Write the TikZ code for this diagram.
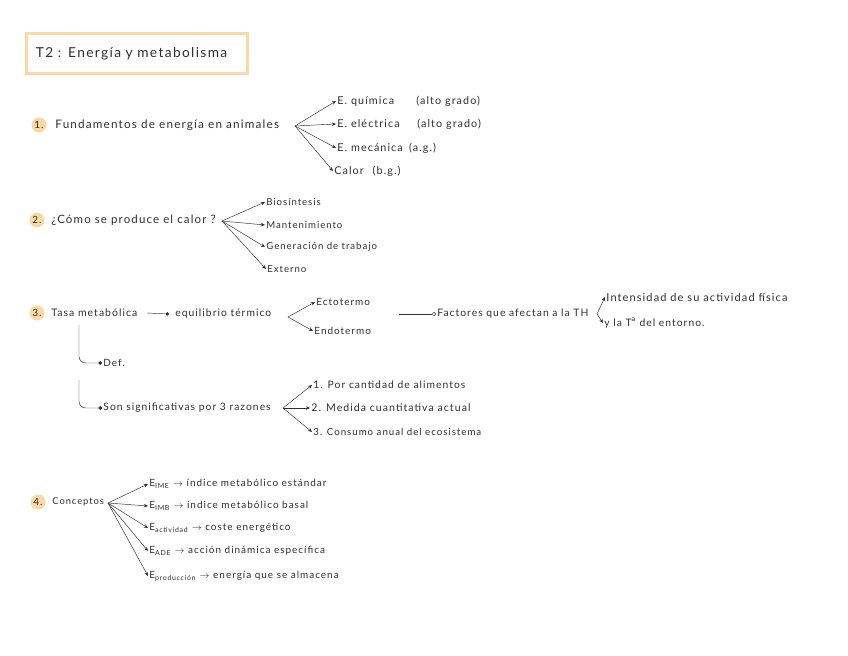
\documentclass[tikz,border=0pt]{standalone}
\usepackage{fontspec}
\setmainfont{Lato}[LetterSpace=10]
\usetikzlibrary{positioning, arrows.meta}
\definecolor{peach}{HTML}{FBD9A6}
\definecolor{ink}{HTML}{2E2E2E}
\newcommand{\fsz}[1]{\fontsize{#1}{#1}\selectfont}

\begin{document}
\begin{tikzpicture}[
    x=0.03cm, y=-0.03cm,
    ->, >={Stealth[length=3.5pt, width=3pt]}, draw=ink, thin,
    every node/.style={text=ink, inner sep=1pt},
    topic/.style={anchor=west, font=\fsz{10}},
    leaf/.style={anchor=west, font=\fsz{8.5}},
    num/.style={circle, fill=peach, minimum size=0.45cm, inner sep=0pt,
        font=\fsz{8.5}},
    titlebox/.style={draw=peach, line width=2.5pt, anchor=north west,
        minimum width=6.62cm, minimum height=1.2cm, inner xsep=0.28cm,
        text width=6.05cm, align=left, font=\fsz{11.7}},
    dot/.style={-{Circle[length=3pt]}},
    odot/.style={-{Circle[open, length=3.5pt]}},
    every edge/.style={draw, thin}
]
    \useasboundingbox (0,0) rectangle (848,656);

    % title
    \node[titlebox] (title) at (25,32) {T2 : Energía y metabolisma};

    % 1. fundamentos
    \node[num]   (n1)   at (39,125) {1.};
    \node[topic] (fund) at (54,125) {Fundamentos de energía en animales};
    \coordinate  (f1)   at (295,126);
    \node[leaf, font=\fsz{9.2}] (quim) at (336,101) {\makebox[2.37cm][l]{E. química}(alto grado)};
    \node[leaf, font=\fsz{9.2}] (elec) at (336,124) {\makebox[2.4cm][l]{E. eléctrica}(alto grado)};
    \node[leaf, font=\fsz{9.2}] (meca) at (336,148) {\makebox[2.15cm][l]{E. mecánica}(a.g.)};
    \node[leaf, font=\fsz{9.2}] (calo) at (333,171) {\makebox[1.15cm][l]{Calor}(b.g.)};
    \path
        (f1) edge (quim.west)
        (f1) edge (elec.west)
        (f1) edge (meca.west)
        (f1) edge (calo.west);

    % 2. calor
    \node[num]   (n2)    at (37,220) {2.};
    \node[topic, font=\fsz{9.8}] (calor) at (50,220) {¿Cómo se produce el calor ?};
    \coordinate  (f2)    at (222,221);
    \node[leaf, font=\fsz{8.2}] (bios) at (265,202) {Biosíntesis};
    \node[leaf, font=\fsz{8.2}] (mant) at (265,225) {Mantenimiento};
    \node[leaf, font=\fsz{8.2}] (gene) at (265,247) {Generación de trabajo};
    \node[leaf, font=\fsz{8.2}] (exte) at (266,269) {Externo};
    \path
        (f2) edge (bios.west)
        (f2) edge (mant.west)
        (f2) edge (gene.west)
        (f2) edge (exte.west);

    % 3. tasa metabolica
    \node[num]   (n3)    at (37,313) {3.};
    \node[topic, font=\fsz{8.9}] (tasa)  at (50,313) {Tasa metabólica};
    \node[leaf, font=\fsz{8.8}]  (equil) at (174,314) {equilibrio térmico};
    \draw[dot] ([xshift=0.25cm]tasa.east) -- ([xshift=-0.15cm]equil.west);
    \coordinate  (f3)   at (288,317);
    \node[leaf] (ecto) at (315,302) {Ectotermo};
    \node[leaf] (endo) at (313,331) {Endotermo};
    \path
        (f3) edge (ecto.west)
        (f3) edge (endo.west);
    \node[leaf, font=\fsz{8.8}] (fact) at (436,314) {Factores que afectan a la TH};
    \draw[odot] ([xshift=-1.1cm]fact.west) -- (fact.west);
    \coordinate (f4)   at (597,314);
    \node[leaf, font=\fsz{9.4}] (inte) at (605,297) {Intensidad de su actividad física};
    \node[leaf, font=\fsz{8.8}] (ento) at (603,323) {y la T\textsuperscript{a} del entorno.};
    \path
        (f4) edge (inte.west)
        (f4) edge (ento.west);

    \coordinate (deftop) at (79,325);
    \node[leaf] (def) at (102,363) {Def.};
    \draw[dot, rounded corners=0.2cm] (deftop) |- (def.west);

    \coordinate (sontop) at (79,380);
    \node[leaf, font=\fsz{8.8}] (son) at (102,408) {Son significativas por 3 razones};
    \draw[dot, rounded corners=0.2cm] (sontop) |- (son.west);
    \coordinate (f5)   at (283,408);
    \node[leaf, font=\fsz{8.8}] (raz1) at (312,385) {1. Por cantidad de alimentos};
    \node[leaf, font=\fsz{9}]   (raz2) at (310,408) {2. Medida cuantitativa actual};
    \node[leaf, font=\fsz{8.3}] (raz3) at (312,432) {3. Consumo anual del ecosistema};
    \path
        (f5) edge (raz1.west)
        (f5) edge (raz2.west)
        (f5) edge (raz3.west);

    % 4. conceptos
    \node[num]   (n4)   at (38,502) {4.};
    \node[topic, font=\fsz{8}] (conc) at (51,502) {Conceptos};
    \coordinate  (f6)   at (108,503);
    \node[leaf] (ime) at (148,484) {E\textsubscript{IME} $\to$ índice metabólico estándar};
    \node[leaf] (imb) at (148,506) {E\textsubscript{IMB} $\to$ índice metabólico basal};
    \node[leaf] (act) at (148,528) {E\textsubscript{actividad} $\to$ coste energético};
    \node[leaf] (ade) at (148,551) {E\textsubscript{ADE} $\to$ acción dinámica específica};
    \node[leaf] (pro) at (148,576) {E\textsubscript{producción} $\to$ energía que se almacena};
    \path
        (f6) edge (ime.west)
        (f6) edge (imb.west)
        (f6) edge (act.west)
        (f6) edge (ade.west)
        (f6) edge (pro.west);
\end{tikzpicture}
\end{document}
